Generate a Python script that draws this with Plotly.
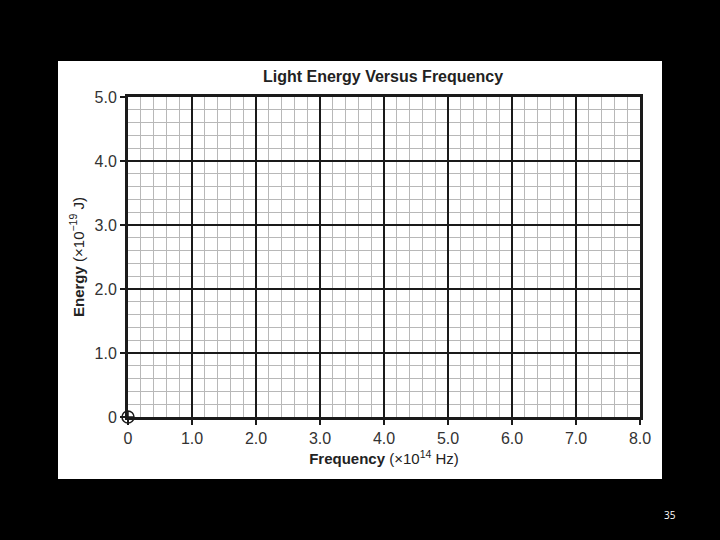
import plotly.graph_objects as go

# Data / labels
title_text = "Light Energy Versus Frequency"
x_label = "<b>Frequency</b> (×10<sup>14</sup> Hz)"
y_label = "<b>Energy</b> (×10<sup>−19</sup> J)"
x_tick_vals = [0, 1, 2, 3, 4, 5, 6, 7, 8]
x_tick_text = ["0", "1.0", "2.0", "3.0", "4.0", "5.0", "6.0", "7.0", "8.0"]
y_tick_vals = [0, 1, 2, 3, 4, 5]
y_tick_text = ["0", "1.0", "2.0", "3.0", "4.0", "5.0"]
origin_x = [0]
origin_y = [0]
page_number = "35"

fig = go.Figure()
fig.add_trace(go.Scatter(
    x=origin_x, y=origin_y, mode="markers",
    marker=dict(symbol="circle-cross-open", size=12, color="#1a1a1a",
                line=dict(width=1.5, color="#1a1a1a")),
    cliponaxis=False, showlegend=False, hoverinfo="skip"))

axis_common = dict(
    showgrid=True, gridcolor="#1a1a1a", gridwidth=1.5,
    zeroline=False,
    showline=True, linecolor="#1a1a1a", linewidth=3, mirror=True,
    ticks="outside", ticklen=5, tickwidth=1.5, tickcolor="#1a1a1a",
    tickfont=dict(family="Liberation Sans, Arial, sans-serif", size=16, color="#333333"),
    minor=dict(dtick=0.2, showgrid=True, gridcolor="#b8b8b8", gridwidth=1, ticks=""),
)

fig.update_xaxes(range=[0, 8], tickvals=x_tick_vals, ticktext=x_tick_text,
                 title=dict(text=x_label, standoff=8,
                            font=dict(family="Liberation Sans, Arial, sans-serif", size=15, color="#222222")),
                 **axis_common)
fig.update_yaxes(range=[0, 5], tickvals=y_tick_vals, ticktext=y_tick_text,
                 ticklabelstandoff=0,
                 title=dict(text=y_label, standoff=7,
                            font=dict(family="Liberation Sans, Arial, sans-serif", size=15, color="#222222")),
                 **axis_common)

fig.update_layout(
    width=720, height=540,
    margin=dict(l=128, r=80, t=97, b=123),
    paper_bgcolor="black", plot_bgcolor="white",
    title=dict(text="<b>" + title_text + "</b>", x=383/720, xanchor="center",
               y=1 - 76/540, yanchor="middle",
               font=dict(family="Liberation Sans, Arial, sans-serif", size=16, color="#222222")),
    shapes=[dict(type="rect", xref="paper", yref="paper",
                 x0=(58-128)/512, x1=(662-128)/512,
                 y0=(417-479)/320, y1=(417-61)/320,
                 fillcolor="white", line=dict(width=0), layer="below")],
    annotations=[dict(text=page_number, xref="paper", yref="paper",
                      x=(670-128)/512, y=(417-515)/320, showarrow=False,
                      xanchor="center", yanchor="middle",
                      font=dict(family="Open Sans, sans-serif", size=10, color="white"))],
)

fig.write_html("out.html",
               config={"displayModeBar": False},
               post_script="document.body.style.margin='0';document.body.style.background='black';")
